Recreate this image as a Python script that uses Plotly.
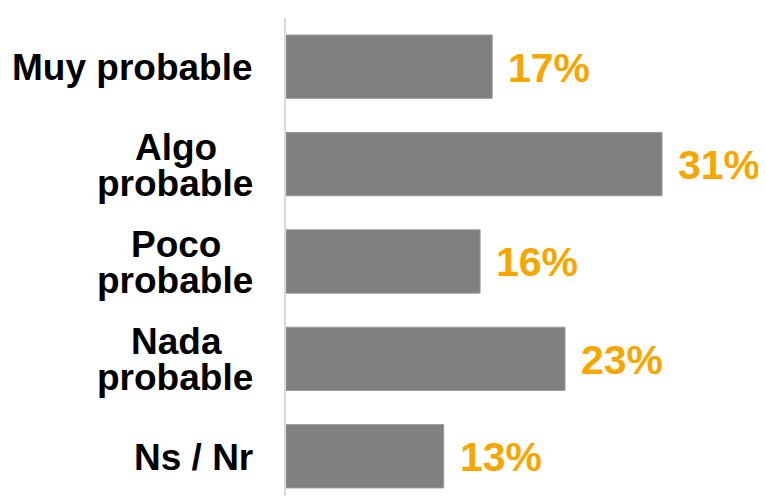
import plotly.graph_objects as go

categories = ["Muy probable", "Algo probable", "Poco probable", "Nada probable", "Ns / Nr"]
label_lines = [["Muy probable"], ["Algo", "probable"], ["Poco", "probable"], ["Nada", "probable"], ["Ns / Nr"]]
values = [17, 31, 16, 23, 13]
value_labels = [f"{v}%" for v in values]

FONT = "Liberation Sans, Arial, sans-serif"
BAR_COLOR = "#7F7F7F"
ORANGE = "#F7A600"

fig = go.Figure(go.Bar(
    x=values, y=categories, orientation="h",
    marker=dict(color=BAR_COLOR, line=dict(color="#9A9A9A", width=1)),
    hoverinfo="skip",
))

annotations = []
for cat, v, vl in zip(categories, values, value_labels):
    annotations.append(dict(
        x=v, y=cat, xref="x", yref="y", text=vl, showarrow=False,
        xanchor="left", yanchor="middle", xshift=14, yshift=-1,
        font=dict(family=FONT, size=41, color=ORANGE, weight="bold"),
    ))

for cat, lines in zip(categories, label_lines):
    lf = dict(family=FONT, size=37, color="#000000", weight="bold")
    if len(lines) == 1:
        annotations.append(dict(
            x=0, y=cat, xref="paper", yref="y", text=lines[0], showarrow=False,
            xanchor="right", yanchor="middle", xshift=-31, yshift=-1, font=lf,
        ))
    else:
        annotations.append(dict(
            x=0, y=cat, xref="paper", yref="y", text=lines[1], showarrow=False,
            xanchor="right", yanchor="middle", xshift=-31, yshift=-19, font=lf,
        ))
        annotations.append(dict(
            x=0, y=cat, xref="paper", yref="y", text=lines[0], showarrow=False,
            xanchor="center", yanchor="middle", xshift=-110, yshift=17, font=lf,
        ))

fig.update_layout(
    width=766, height=496,
    margin=dict(l=278, r=0, t=10, b=0, pad=0),
    paper_bgcolor="white", plot_bgcolor="white",
    bargap=0.35,
    showlegend=False,
    annotations=annotations,
    xaxis=dict(range=[0, 40.23], visible=False, fixedrange=True),
    yaxis=dict(
        type="category", categoryorder="array", categoryarray=categories,
        range=[4.49, -0.5], showticklabels=False, ticks="",
        showline=True, linecolor="#D9D9D9", linewidth=2,
        showgrid=False, zeroline=False, fixedrange=True,
    ),
)

fig.write_html("out.html")
